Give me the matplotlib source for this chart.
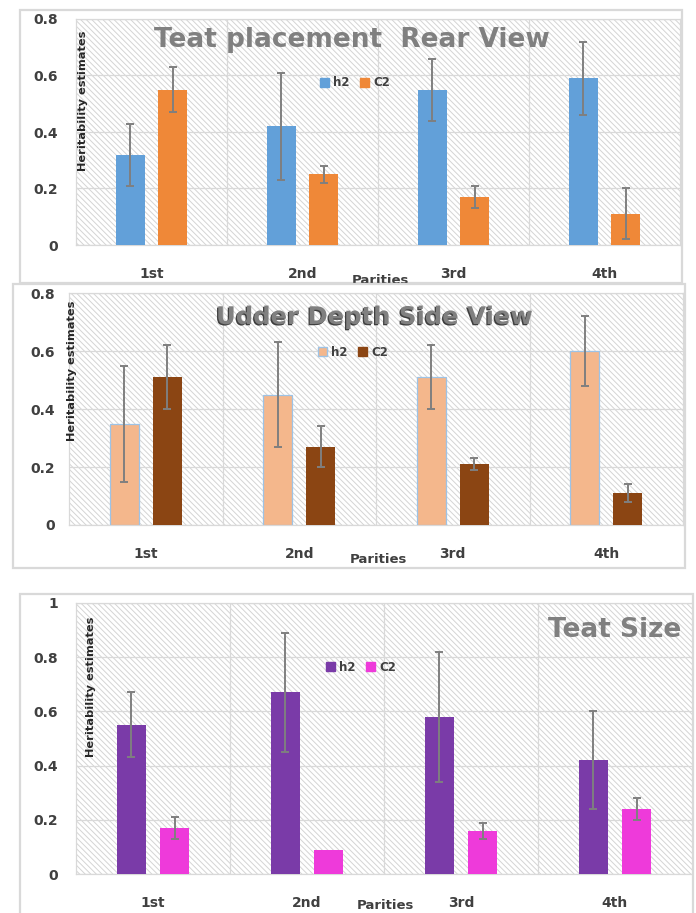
import matplotlib
matplotlib.use("Agg")
import matplotlib.pyplot as plt
from matplotlib.patches import Rectangle, Patch
import matplotlib.patheffects as pe
import numpy as np

# ---------------- data ----------------
parities = ["1st", "2nd", "3rd", "4th"]
series_names = ["h2", "C2"]

# Panel 1: Teat placement Rear View
p1_title = "Teat placement  Rear View"
p1_h2 = [0.32, 0.42, 0.55, 0.59]
p1_h2_lo = [0.21, 0.23, 0.44, 0.46]
p1_h2_hi = [0.43, 0.61, 0.66, 0.72]
p1_c2 = [0.55, 0.25, 0.17, 0.11]
p1_c2_lo = [0.47, 0.22, 0.13, 0.02]
p1_c2_hi = [0.63, 0.28, 0.21, 0.20]

# Panel 2: Udder Depth Side View
p2_title = "Udder Depth Side View"
p2_h2 = [0.35, 0.45, 0.51, 0.60]
p2_h2_lo = [0.15, 0.27, 0.40, 0.48]
p2_h2_hi = [0.55, 0.63, 0.62, 0.72]
p2_c2 = [0.51, 0.27, 0.21, 0.11]
p2_c2_lo = [0.40, 0.20, 0.19, 0.08]
p2_c2_hi = [0.62, 0.34, 0.23, 0.14]

# Panel 3: Teat Size
p3_title = "Teat Size"
p3_h2 = [0.55, 0.67, 0.58, 0.42]
p3_h2_lo = [0.43, 0.45, 0.34, 0.24]
p3_h2_hi = [0.67, 0.89, 0.82, 0.60]
p3_c2 = [0.17, 0.09, 0.16, 0.24]
p3_c2_lo = [0.13, None, 0.13, 0.20]
p3_c2_hi = [0.21, None, 0.19, 0.28]

yticks_08 = [0, 0.2, 0.4, 0.6, 0.8]
yticklabels_08 = ["0", "0.2", "0.4", "0.6", "0.8"]
yticks_10 = [0, 0.2, 0.4, 0.6, 0.8, 1.0]
yticklabels_10 = ["0", "0.2", "0.4", "0.6", "0.8", "1"]

ylabel_text = "Heritability estimates"
xlabel_text = "Parities"

# ---------------- style ----------------
plt.rcParams["font.family"] = ["DejaVu Sans"]
plt.rcParams["hatch.linewidth"] = 0.7

W, H = 696, 913
fig = plt.figure(figsize=(W / 100, H / 100), dpi=100)


def fx(x):
    return x / W


def fy(y):
    return 1 - y / H


def add_box(x0, y0, x1, y1, z):
    fig.add_artist(Rectangle((fx(x0), fy(y1)), fx(x1) - fx(x0), fy(y0) - fy(y1),
                             transform=fig.transFigure, facecolor="white",
                             edgecolor="#d9d9d9", lw=1.6, zorder=z))


GRID = "#d9d9d9"
TXT = "#404040"
ERR = "#7f7f7f"


def panel(rect_px, box_px, z, ymax, yticks, yticklabels, ypad,
          h2, h2_lo, h2_hi, c2, c2_lo, c2_hi, colors, edgecolors,
          title, title_xy, title_size, title_shadow,
          ylabel_xy, legend_xy, xlabel_xy):
    add_box(*box_px, z - 0.5)
    L, T, R, B = rect_px
    ax = fig.add_axes([fx(L), fy(B), fx(R) - fx(L), fy(T) - fy(B)])
    ax.set_zorder(z)
    ax.patch.set_facecolor("white")
    ax.add_patch(Rectangle((0, 0), 1, 1, transform=ax.transAxes, facecolor="white",
                           edgecolor="#d4d4d4", hatch="\\" * 6, lw=0, zorder=0))
    ax.set_xlim(-0.5, 3.5)
    ax.set_ylim(0, ymax)
    ax.set_yticks(yticks)
    ax.set_yticklabels(yticklabels)
    ax.yaxis.grid(True, color=GRID, lw=0.9, zorder=1)
    ax.set_axisbelow(True)
    for xv in [0.5, 1.5, 2.5]:
        ax.axvline(xv, color=GRID, lw=0.9, zorder=1)
    for s in ax.spines.values():
        s.set_color(GRID)
        s.set_linewidth(0.9)
    x = np.arange(len(parities))
    off, w = 0.14, 0.19
    ax.bar(x - off, h2, w, color=colors[0], edgecolor=edgecolors[0],
           lw=0.9 if edgecolors[0] != "none" else 0, zorder=3, label=series_names[0])
    ax.bar(x + off, c2, w, color=colors[1], edgecolor=edgecolors[1],
           lw=0.9 if edgecolors[1] != "none" else 0, zorder=3, label=series_names[1])
    for xs, vals, los, his in [(x - off, h2, h2_lo, h2_hi), (x + off, c2, c2_lo, c2_hi)]:
        for xi, v, lo, hi in zip(xs, vals, los, his):
            if lo is None:
                continue
            ax.errorbar([xi], [v], yerr=[[v - lo], [hi - v]], fmt="none",
                        ecolor=ERR, elinewidth=1.4, capsize=2.8, capthick=1.4, zorder=4)
    ax.set_xticks(x)
    ax.set_xticklabels(parities)
    ax.tick_params(axis="both", length=0, labelsize=10, labelcolor=TXT)
    ax.tick_params(axis="x", pad=16)
    ax.tick_params(axis="y", pad=ypad)
    for lab in ax.get_xticklabels() + ax.get_yticklabels():
        lab.set_fontweight("bold")
    effects = None
    if title_shadow:
        effects = [pe.SimplePatchShadow(offset=(-0.9, -0.9), shadow_rgbFace="#2b2b2b", alpha=0.9),
                   pe.Normal()]
    ax.text(fx(title_xy[0]), fy(title_xy[1]), title, transform=fig.transFigure,
            ha="center", va="center", fontsize=title_size, fontweight="bold",
            color="#808080", path_effects=effects)
    ax.text(fx(ylabel_xy[0]), fy(ylabel_xy[1]), ylabel_text, transform=fig.transFigure,
            ha="center", va="center", rotation=90, fontsize=8.2, fontweight="bold",
            color="#262626")
    ax.text(fx(xlabel_xy[0]), fy(xlabel_xy[1]), xlabel_text, transform=fig.transFigure,
            ha="center", va="center", fontsize=9.5, fontweight="bold", color=TXT)
    handles = [Patch(facecolor=colors[0], edgecolor=edgecolors[0] if edgecolors[0] != "none" else colors[0]),
               Patch(facecolor=colors[1], edgecolor=colors[1])]
    ax.legend(handles, series_names, ncol=2, loc="center",
              bbox_to_anchor=(fx(legend_xy[0]), fy(legend_xy[1])),
              bbox_transform=fig.transFigure, frameon=False,
              handlelength=0.75, handleheight=0.75, handletextpad=0.35,
              columnspacing=0.9, prop={"weight": "bold", "size": 8.5},
              labelcolor=TXT, borderaxespad=0, borderpad=0)
    return ax


panel((76, 19, 680, 245), (20, 10, 682, 283), 1, 0.8, yticks_08, yticklabels_08, 13,
      p1_h2, p1_h2_lo, p1_h2_hi, p1_c2, p1_c2_lo, p1_c2_hi,
      ["#62A0D9", "#EF8838"], ["none", "none"],
      p1_title, (352, 40), 19, False,
      (83, 101), (355, 83), (380, 280))

panel((69, 293, 683, 525), (13, 284, 685, 568), 2, 0.8, yticks_08, yticklabels_08, 10,
      p2_h2, p2_h2_lo, p2_h2_hi, p2_c2, p2_c2_lo, p2_c2_hi,
      ["#F4B78C", "#8B4513"], ["#9DC3E6", "none"],
      p2_title, (374, 317), 17.5, True,
      (72, 371), (353, 352), (378, 559))

panel((76, 603, 692, 874), (20, 594, 693, 925), 3, 1.0, yticks_10, yticklabels_10, 13,
      p3_h2, p3_h2_lo, p3_h2_hi, p3_c2, p3_c2_lo, p3_c2_hi,
      ["#7A3BA8", "#EE3ADA"], ["none", "none"],
      p3_title, (615, 630), 19, False,
      (91, 687), (361, 667), (385, 905))

fig.savefig("out.png", dpi=100)
